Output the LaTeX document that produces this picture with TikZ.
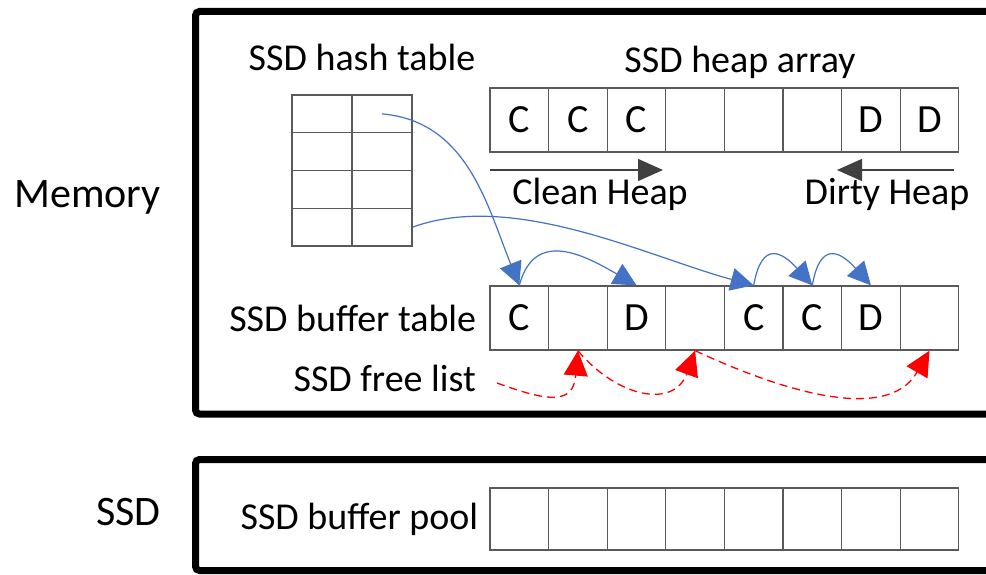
\documentclass[tikz,border=0pt]{standalone}
\usepackage{fontspec}
\setmainfont{Carlito}
\usepackage{tikz}
\usetikzlibrary{positioning}
\usetikzlibrary{arrows.meta}
\definecolor{ptrblue}{RGB}{68,114,196}
\definecolor{gridgray}{RGB}{89,89,89}
\definecolor{heapgray}{RGB}{64,64,64}
\newcommand\cellw{58.6}
\newcommand\txtsz{\fontsize{38}{44}\selectfont}
\newcommand\sidesz{\fontsize{42}{48}\selectfont}
\newcommand\cellsz{\fontsize{40}{44}\selectfont}

\begin{document}
\begin{tikzpicture}[x=1pt, y=1pt,
    cell/.style={rectangle, draw=gridgray, line width=1.3pt, minimum width=58.6pt, minimum height=64pt, inner sep=0pt, font=\cellsz},
    hcell/.style={rectangle, draw=gridgray, line width=1.3pt, minimum width=60pt, minimum height=37.75pt, inner sep=0pt},
    frame/.style={draw, line width=7pt, rounded corners=4pt},
    txt/.style={inner sep=0pt, font=\txtsz},
    ptr/.style={ptrblue, line width=1.2pt, -{Triangle[length=23pt, width=23pt]}},
    free/.style={red, line width=1.3pt, dash pattern=on 8pt off 5pt, -{Triangle[length=25pt, width=24pt]}},
    heap/.style={heapgray, line width=1.5pt, -{Triangle[length=25pt, width=22pt]}}]
    \clip (0,0) rectangle (986,574);

    %Frames
    \draw[frame] (195.5,562.5) rectangle (1010,160);
    \draw[frame] (195.5,114.5) rectangle (1010,3.5);
    \node at (161,377) [anchor=east, inner sep=0pt, font=\sidesz] (mem) {Memory};
    \node at (161,62) [anchor=east, inner sep=0pt, font=\sidesz] (ssd) {SSD};

    %Hash table
    \foreach \r in {1,...,4} {
        \node at (322, {479-37.75*(\r-0.5)}) [hcell] (t\r1) {};
        \node at (382, {479-37.75*(\r-0.5)}) [hcell] (t\r2) {};
    }
    \node at (362,517) [txt] (hashlbl) {SSD hash table};

    %Heap array
    \foreach \t [count=\i] in {C,C,C,{},{},{},D,D}
        \node at ({490+\cellw*(\i-0.5)},454) [cell] (a\i) {\t};
    \node at (740,512) [txt] (heaplbl) {SSD heap array};

    \coordinate (cl0) at (490,404);
    \coordinate (cl1) at (663,404);
    \coordinate (dl0) at (954,404);
    \coordinate (dl1) at (837,404);
    \draw[heap] (cl0) -- (cl1);
    \draw[heap] (dl0) -- (dl1);
    \node at (600,380) [txt] (clean) {Clean Heap};
    \node at (887,380) [txt] (dirty) {Dirty Heap};

    %Buffer table
    \foreach \t [count=\i] in {C,{},D,{},C,C,D,{}}
        \node at ({490+\cellw*(\i-0.5)},256) [cell] (b\i) {\t};
    \node[txt, left=13pt of b1] (buflbl) {SSD buffer table};
    \node at (476,196) [txt, anchor=east] (freelbl) {SSD free list};

    %Buffer pool
    \foreach \i in {1,...,8}
        \node at ({490+\cellw*(\i-0.5)},55) [cell, minimum height=62pt] (p\i) {};
    \node[txt, left=11pt of p1] (poollbl) {SSD buffer pool};

    %Hash entries
    \draw[ptr] (t12.center) to[out=-5, in=112] (b1.north);
    \draw[ptr] (t42.east) to[out=20, in=165, looseness=0.8] (b5.north);

    %Chains
    \draw[ptr] (b1.north) to[out=75, in=150, looseness=1.3] (b3.north);
    \draw[ptr] (b5.north) to[out=80, in=132, looseness=2] (b6.north);
    \draw[ptr] (b6.north) to[out=80, in=132, looseness=2] (b7.north);

    %Free list
    \coordinate (fl0) at (497,191);
    \draw[free] (fl0) to[out=-20, in=-95, looseness=1.6] (b2.south);
    \draw[free] (b2.south) to[out=-50, in=250, looseness=1.35] (b4.south);
    \draw[free] (b4.south) to[out=-25, in=240, looseness=0.95] (b8.south);
\end{tikzpicture}
\end{document}
